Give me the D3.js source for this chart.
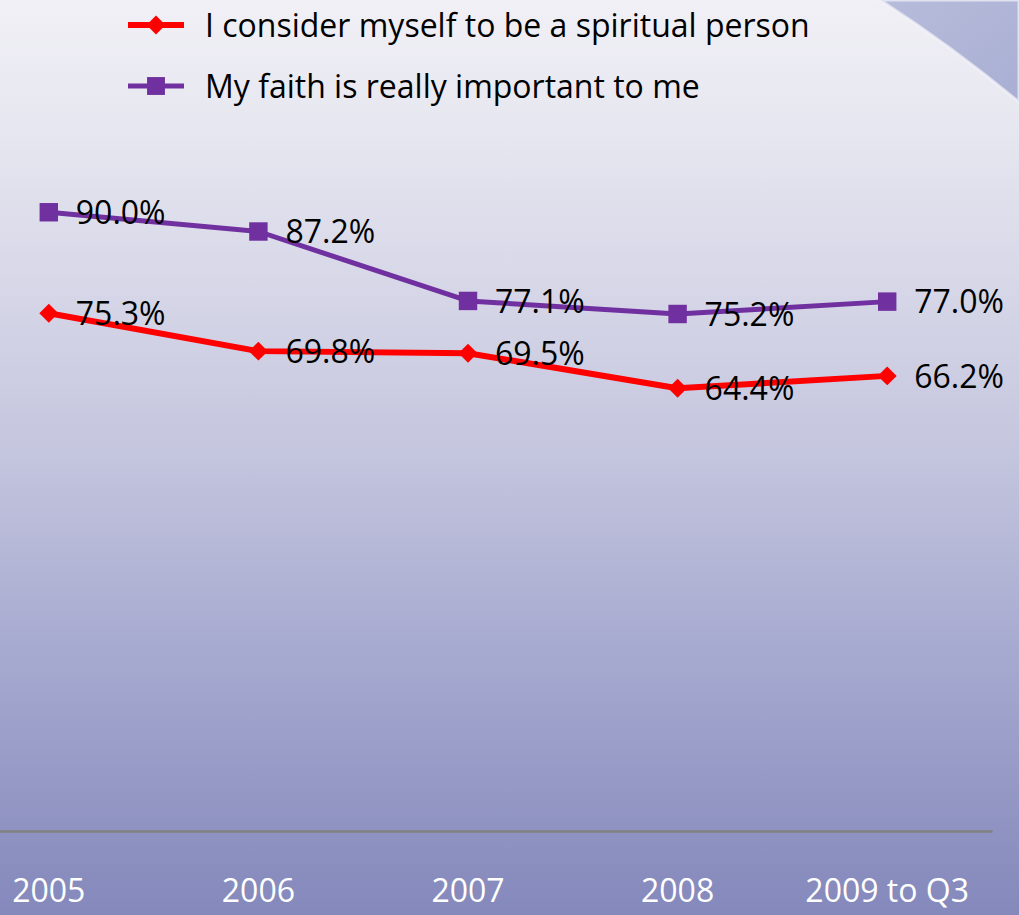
<!DOCTYPE html>
<html>
<head>
<meta charset="utf-8">
<script src="https://cdn.jsdelivr.net/npm/d3@7"></script>
<style>
  html, body { margin: 0; padding: 0; overflow: hidden; }
  body { width: 1019px; height: 915px; }
  text { font-family: "Open Sans", "Noto Sans", sans-serif; }
</style>
</head>
<body>
<div class="chart"></div>
<script>
// data
var years = ["2005", "2006", "2007", "2008", "2009 to Q3"];
var spiritual = [75.3, 69.8, 69.5, 64.4, 66.2];
var faith = [90.0, 87.2, 77.1, 75.2, 77.0];
var seriesNames = ["I consider myself to be a spiritual person", "My faith is really important to me"];

var width = 1019, height = 915;

var svg = d3.select(".chart").append("svg")
  .attr("width", width)
  .attr("height", height);

var defs = svg.append("defs");
var bg = defs.append("linearGradient").attr("id", "bg")
  .attr("x1", 0).attr("y1", 0).attr("x2", 0).attr("y2", 1);
bg.append("stop").attr("offset", "0%").attr("stop-color", "#f1f0f6");
bg.append("stop").attr("offset", "15%").attr("stop-color", "#e6e6f0");
bg.append("stop").attr("offset", "48%").attr("stop-color", "#c6c7df");
bg.append("stop").attr("offset", "71%").attr("stop-color", "#a7aad0");
bg.append("stop").attr("offset", "100%").attr("stop-color", "#8488bb");

var sw = defs.append("linearGradient").attr("id", "sw")
  .attr("x1", 0).attr("y1", 0).attr("x2", 1).attr("y2", 1);
sw.append("stop").attr("offset", "0%").attr("stop-color", "#b7bcdb");
sw.append("stop").attr("offset", "100%").attr("stop-color", "#a9afd3");

svg.append("rect").attr("width", width).attr("height", height).attr("fill", "url(#bg)");

// corner swoosh
svg.append("path")
  .attr("d", "M880,0 Q950,45 1019,102 L1019,0 Z")
  .attr("fill", "url(#sw)")
  .attr("stroke", "#f4f4fa")
  .attr("stroke-width", 3)
  .attr("stroke-opacity", 0.7);

var x = d3.scaleBand().domain(years).range([-56, 992]).padding(0);
var y = d3.scaleLinear().domain([0, 100]).range([831, 143.5]);

// x axis
var axis = svg.append("g")
  .attr("transform", "translate(0," + y(0) + ")")
  .call(d3.axisBottom(x).tickSize(0).tickSizeOuter(0).tickPadding(48));
axis.select(".domain").attr("stroke", "#808080").attr("stroke-width", 2.5);
axis.selectAll("text")
  .attr("fill", "#ffffff")
  .style("font-family", "'Open Sans', sans-serif")
  .style("font-size", "32px");

var cx = function(d, i) { return x(years[i]) + x.bandwidth() / 2; };

var line = d3.line()
  .x(function(d, i) { return cx(d, i); })
  .y(function(d) { return y(d); });

function drawSeries(vals, color, lw, diamond, size) {
  svg.append("path")
    .datum(vals)
    .attr("fill", "none")
    .attr("stroke", color)
    .attr("stroke-width", lw)
    .attr("stroke-linejoin", "round")
    .attr("d", line);
  svg.selectAll(null).data(vals).enter().append("path")
    .attr("d", d3.symbol().type(d3.symbolSquare).size(size))
    .attr("transform", function(d, i) {
      return "translate(" + cx(d, i) + "," + y(d) + ")" + (diamond ? " rotate(45)" : "");
    })
    .attr("fill", color);
  svg.selectAll(null).data(vals).enter().append("text")
    .attr("x", function(d, i) { return cx(d, i) + 27; })
    .attr("y", function(d) { return y(d); })
    .attr("dy", "0.37em")
    .style("font-size", "32px")
    .attr("fill", "#000")
    .text(function(d) { return d.toFixed(1) + "%"; });
}

drawSeries(faith, "#7030a0", 5, false, 340);
drawSeries(spiritual, "#ff0000", 6, true, 180);

// legend
var legend = svg.append("g");
var legendItems = [
  { name: seriesNames[0], color: "#ff0000", lw: 6, diamond: true, y: 25 },
  { name: seriesNames[1], color: "#7030a0", lw: 5, diamond: false, y: 86 }
];
legendItems.forEach(function(it) {
  legend.append("line")
    .attr("x1", 128).attr("x2", 184)
    .attr("y1", it.y).attr("y2", it.y)
    .attr("stroke", it.color).attr("stroke-width", it.lw);
  legend.append("path")
    .attr("d", d3.symbol().type(d3.symbolSquare).size(it.diamond ? 180 : 320))
    .attr("transform", "translate(156," + it.y + ")" + (it.diamond ? " rotate(45)" : ""))
    .attr("fill", it.color);
  legend.append("text")
    .attr("x", 205).attr("y", it.y)
    .attr("dy", "0.37em")
    .style("font-size", "32px")
    .attr("fill", "#000")
    .text(it.name);
});
</script>
</body>
</html>
